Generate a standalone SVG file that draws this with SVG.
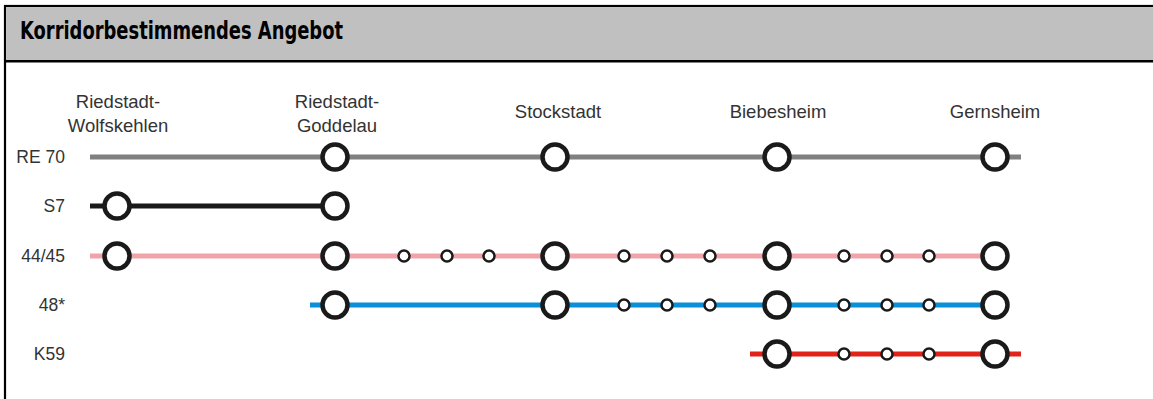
<svg xmlns="http://www.w3.org/2000/svg" width="1153" height="399" viewBox="0 0 1153 399">
<style>
.frame{fill:#fff;stroke:#000;stroke-width:2.2}
.hdr{fill:#c0c0c0}
.title{font-family:"Liberation Sans Narrow","DejaVu Sans Condensed","Liberation Sans",sans-serif;font-weight:bold;font-size:25.5px;fill:#000}
.st{font-family:"Liberation Sans","DejaVu Sans",sans-serif;font-size:18.5px;fill:#333;text-anchor:middle}
.rl{font-family:"Liberation Sans","DejaVu Sans",sans-serif;font-size:17.5px;fill:#333;text-anchor:end}
.ln{stroke-width:5;fill:none}
.big{fill:#fff;stroke:#1a1a1a;stroke-width:4.5}
.sm{fill:#fff;stroke:#1a1a1a;stroke-width:2.5}
</style>
<defs>
<circle id="B" r="12.5" class="big"/>
<circle id="s" r="5.5" class="sm"/>
</defs>
<rect x="5" y="6" width="1160" height="410" class="frame"/>
<rect x="6.1" y="7.1" width="1150" height="53.4" class="hdr"/>
<line x1="5" y1="61.3" x2="1153" y2="61.3" stroke="#000" stroke-width="2.5"/>
<text x="20" y="39" class="title" textLength="323" lengthAdjust="spacingAndGlyphs">Korridorbestimmendes Angebot</text>

<g id="station-labels">
<g id="lbl-wolfskehlen"><text x="118" y="108" class="st">Riedstadt-</text><text x="118" y="132" class="st">Wolfskehlen</text></g>
<g id="lbl-goddelau"><text x="337" y="108" class="st">Riedstadt-</text><text x="337" y="132" class="st">Goddelau</text></g>
<g id="lbl-stockstadt"><text x="558" y="118" class="st">Stockstadt</text></g>
<g id="lbl-biebesheim"><text x="778" y="118" class="st">Biebesheim</text></g>
<g id="lbl-gernsheim"><text x="995" y="118" class="st">Gernsheim</text></g>
</g>

<g id="row-labels">
<text x="65" y="163" class="rl">RE 70</text>
<text x="65" y="212" class="rl">S7</text>
<text x="65" y="262" class="rl">44/45</text>
<text x="65" y="311" class="rl">48*</text>
<text x="65" y="360" class="rl">K59</text>
</g>

<g id="connectors">
<line x1="90" y1="157" x2="1021" y2="157" class="ln" stroke="#808080"/>
<line x1="90" y1="206" x2="335" y2="206" class="ln" stroke="#1a1a1a"/>
<line x1="90" y1="256" x2="995" y2="256" class="ln" stroke="#f0a3a8"/>
<line x1="310" y1="305" x2="995" y2="305" class="ln" stroke="#0a90d8"/>
<line x1="750" y1="354" x2="1021" y2="354" class="ln" stroke="#e2231a"/>
</g>

<g id="line-RE70">
<use href="#B" x="335" y="157"/><use href="#B" x="555" y="157"/><use href="#B" x="777" y="157"/><use href="#B" x="995" y="157"/>
</g>
<g id="line-S7">
<use href="#B" x="117" y="206"/><use href="#B" x="335" y="206"/>
</g>
<g id="line-4445">
<use href="#B" x="117" y="256"/><use href="#B" x="335" y="256"/>
<use href="#s" x="404" y="256"/><use href="#s" x="447" y="256"/><use href="#s" x="489" y="256"/>
<use href="#B" x="555" y="256"/>
<use href="#s" x="624" y="256"/><use href="#s" x="667" y="256"/><use href="#s" x="710" y="256"/>
<use href="#B" x="777" y="256"/>
<use href="#s" x="844" y="256"/><use href="#s" x="887" y="256"/><use href="#s" x="929" y="256"/>
<use href="#B" x="995" y="256"/>
</g>
<g id="line-48">
<use href="#B" x="335" y="305"/><use href="#B" x="555" y="305"/>
<use href="#s" x="624" y="305"/><use href="#s" x="667" y="305"/><use href="#s" x="710" y="305"/>
<use href="#B" x="777" y="305"/>
<use href="#s" x="844" y="305"/><use href="#s" x="887" y="305"/><use href="#s" x="929" y="305"/>
<use href="#B" x="995" y="305"/>
</g>
<g id="line-K59">
<use href="#B" x="777" y="354"/>
<use href="#s" x="844" y="354"/><use href="#s" x="887" y="354"/><use href="#s" x="929" y="354"/>
<use href="#B" x="995" y="354"/>
</g>
</svg>
